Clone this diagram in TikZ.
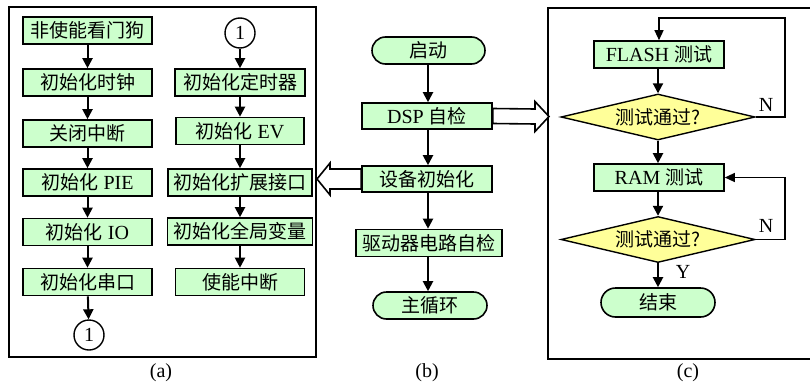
\documentclass[tikz,border=0pt]{standalone}
\usepackage{fontspec}
\setmainfont{Liberation Serif}
\newfontfamily\zhfont{Noto Sans CJK SC}
\newcommand{\zh}[1]{{\zhfont\fontsize{19}{21}\selectfont #1}}
\usetikzlibrary{shapes.geometric,arrows.meta,calc}
\definecolor{boxgreen}{RGB}{204,255,204}
\definecolor{diayellow}{RGB}{255,255,153}

\begin{document}
\begin{tikzpicture}[x=1pt,y=-1pt,
  proc/.style={draw, line width=1.6pt, fill=boxgreen, minimum height=27pt,
    inner sep=0pt, font=\fontsize{20}{22}\selectfont},
  term/.style={proc, rounded corners=13.5pt},
  dec/.style={diamond, aspect=4.2, draw, line width=1.4pt, fill=diayellow,
    minimum width=194pt, minimum height=46pt, inner sep=0pt,
    font=\fontsize{20}{22}\selectfont},
  conn/.style={circle, draw, line width=1.4pt, fill=white, minimum size=30pt,
    inner sep=0pt, font=\fontsize{20}{22}\selectfont},
  flow/.style={-{Triangle[length=10pt,width=10pt]}, line width=2pt},
  backflow/.style={-{Triangle[length=10pt,width=9pt]}, line width=1.3pt},
  blockarrow/.style={draw, fill=white, line width=1.6pt, line join=miter},
  frame/.style={line width=1.5pt},
  lbl/.style={font=\fontsize{20}{22}\selectfont, inner sep=0pt}]

\useasboundingbox (0,0) rectangle (810,388);

% panel frames
\draw[frame] (9,7) rectangle (316,357);
\draw[frame] (812,8) -- (548,8) -- (548,359) -- (812,359);

% ---------- (a) initialisation, left column ----------
\node[proc, minimum width=129pt] (a1) at (87.5,30.5) {\zh{非使能看门狗}};
\node[proc, minimum width=129pt] (a2) at (87.5,82.5) {\zh{初始化时钟}};
\node[proc, minimum width=129pt] (a3) at (87.5,133.5) {\zh{关闭中断}};
\node[proc, minimum width=129pt] (a4) at (87.5,182.5) {\zh{初始化} PIE};
\node[proc, minimum width=129pt] (a5) at (87.5,232) {\zh{初始化} IO};
\node[proc, minimum width=129pt] (a6) at (87.5,282) {\zh{初始化串口}};
\node[conn] (ca) at (89,335) {1};

% ---------- (a) initialisation, right column ----------
\node[conn] (cb) at (240,33) {1};
\node[proc, minimum width=130pt] (b1) at (240,82.5) {\zh{初始化定时器}};
\node[proc, minimum width=128pt] (b2) at (240,131) {\zh{初始化} EV};
\node[proc, minimum width=144pt] (b3) at (240,182.5) {\zh{初始化扩展接口}};
\node[proc, minimum width=145pt] (b4) at (240,231.5) {\zh{初始化全局变量}};
\node[proc, minimum width=129pt] (b5) at (240,282) {\zh{使能中断}};

\draw[flow] (a1) -- (a2);
\draw[flow] (a2) -- (a3);
\draw[flow] (a3) -- (a4);
\draw[flow] (a4) -- (a5);
\draw[flow] (a5) -- (a6);
\draw[flow] (a6) -- (ca);
\draw[flow] (cb) -- (b1);
\draw[flow] (b1) -- (b2);
\draw[flow] (b2) -- (b3);
\draw[flow] (b3) -- (b4);
\draw[flow] (b4) -- (b5);

% ---------- (b) main flow ----------
\node[term, minimum width=113pt] (start) at (428.5,50.5) {\zh{启动}};
\node[proc, minimum width=130pt, minimum height=26pt] (dsp) at (427,116) {DSP \zh{自检}};
\node[proc, minimum width=130pt, minimum height=26pt] (init) at (427,179) {\zh{设备初始化}};
\node[proc, minimum width=146pt] (drv) at (429,243) {\zh{驱动器电路自检}};
\node[term, minimum width=114pt] (loop) at (430,305.5) {\zh{主循环}};

\draw[flow] (start.south -| 428,0) -- (dsp.north -| 428,0);
\draw[flow] (dsp.south -| 428,0) -- (init.north -| 428,0);
\draw[flow] (init.south -| 428,0) -- (drv.north -| 428,0);
\draw[flow] (drv.south -| 428,0) -- (loop.north -| 428,0);

% hollow arrows pointing to the detailed panels
\coordinate (fa) at (317,179);
\draw[blockarrow] ($(init.west)+(0,-10)$) -- ($(fa)+(13,-10)$) -- ($(fa)+(13,-16)$)
  -- (fa) -- ($(fa)+(13,16)$) -- ($(fa)+(13,10)$) -- ($(init.west)+(0,10)$) -- cycle;
\coordinate (fc) at (549,116.5);
\draw[blockarrow] ($(dsp.east)+(0,-7.5)$) -- ($(fc)+(-14,-7.5)$) -- ($(fc)+(-14,-15)$)
  -- (fc) -- ($(fc)+(-14,15)$) -- ($(fc)+(-14,7.5)$) -- ($(dsp.east)+(0,7.5)$) -- cycle;

% ---------- (c) DSP self test ----------
\node[proc, minimum width=130pt] (flash) at (659,54.5) {FLASH \zh{测试}};
\node[dec] (d1) at (658,117) {\zh{测试通过?}};
\node[proc, minimum width=130pt] (ram) at (659,177.5) {RAM \zh{测试}};
\node[dec] (d2) at (658,239.5) {\zh{测试通过?}};
\node[term, minimum width=114pt, minimum height=29pt, rounded corners=14.5pt] (end) at (658,302.5) {\zh{结束}};

\draw[flow] (flash.south -| 658,0) -- (d1.north);
\draw[flow] (d1.south) -- (ram.north -| 658,0);
\draw[flow] (ram.south -| 658,0) -- (d2.north);
\draw[flow] (d2.south) -- (end.north -| 658,0);

\coordinate (r1) at (785,18);
\coordinate (r2) at (785,177.5);
\draw[backflow] (d1.east) -- (r1 |- d1.east) -- (r1) -- (r1 -| flash.north) -- (flash.north);
\draw[backflow] (d2.east) -- (r2 |- d2.east) -- (r2) -- (ram.east);

\node[lbl] (n1) at (766,105) {N};
\node[lbl] (n2) at (766,226) {N};
\node[lbl] (y2) at (683,272) {Y};

% captions
\node[lbl] (capa) at (161,373) {(a)};
\node[lbl] (capb) at (427,373) {(b)};
\node[lbl] (capc) at (688,373) {(c)};
\end{tikzpicture}
\end{document}
